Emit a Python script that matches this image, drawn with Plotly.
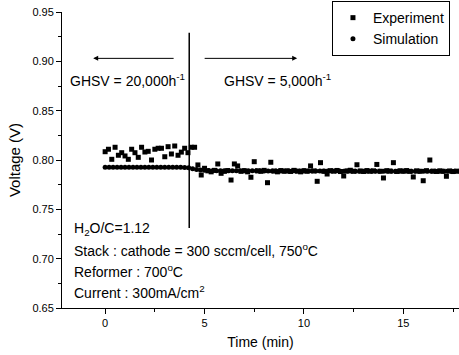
import plotly.graph_objects as go

# ---- data ----
exp_t0 = 0.0
exp_dt = 1.0 / 6.0  # sampling interval (min)
exp_v = [
    0.8084, 0.8109, 0.8007, 0.8129, 0.8048, 0.8074, 0.8041, 0.8007, 0.8109, 0.8074,
    0.8027, 0.8129, 0.8081, 0.8088, 0.8000, 0.8109, 0.8119, 0.8119, 0.8033, 0.8135,
    0.8061, 0.8142, 0.8048, 0.8080, 0.8119, 0.8074, 0.8129, 0.8129, 0.7950, 0.7848,
    0.7916, 0.7890, 0.7880, 0.7895, 0.7960, 0.7865, 0.7885, 0.7893, 0.7797, 0.7960,
    0.7940, 0.7885, 0.7892, 0.7880, 0.7825, 0.7983, 0.7890, 0.7885, 0.7895, 0.7770,
    0.7977, 0.7888, 0.7880, 0.7893, 0.7886, 0.7890, 0.7884, 0.7895, 0.7887, 0.7880,
    0.7892, 0.7886, 0.7940, 0.7889, 0.7784, 0.7973, 0.7885, 0.7858, 0.7892, 0.7887,
    0.7894, 0.7883, 0.7838, 0.7890, 0.7896, 0.7886, 0.7952, 0.7889, 0.7884, 0.7893,
    0.7887, 0.7890, 0.7955, 0.7886, 0.7818, 0.7892, 0.7888, 0.7973, 0.7884, 0.7891,
    0.7887, 0.7893, 0.7885, 0.7828, 0.7890, 0.7886, 0.7790, 0.7892, 0.8000, 0.7887,
    0.7884, 0.7890, 0.7886, 0.7835, 0.7889, 0.7883, 0.7887,
]
exp_t = [exp_t0 + exp_dt * i for i in range(len(exp_v))]

sim_t0 = 0.0
sim_dt = 0.2
sim_v = [
    0.7926, 0.7926, 0.7926, 0.7926, 0.7926, 0.7926, 0.7926, 0.7926, 0.7926, 0.7926,
    0.7926, 0.7926, 0.7926, 0.7926, 0.7926, 0.7926, 0.7926, 0.7926, 0.7926, 0.7926,
    0.7925, 0.7921, 0.7912, 0.7904, 0.7898, 0.7895, 0.7893, 0.7892, 0.7891, 0.7891,
    0.7890, 0.7890, 0.7890, 0.7890, 0.7890, 0.7890, 0.7890, 0.7890, 0.7890, 0.7890,
    0.7889, 0.7889, 0.7889, 0.7889, 0.7889, 0.7889, 0.7889, 0.7889, 0.7889, 0.7889,
    0.7888, 0.7888, 0.7888, 0.7888, 0.7888, 0.7888, 0.7888, 0.7888, 0.7888, 0.7888,
    0.7887, 0.7887, 0.7887, 0.7887, 0.7887, 0.7887, 0.7887, 0.7887, 0.7887, 0.7887,
    0.7886, 0.7886, 0.7886, 0.7886, 0.7886, 0.7886, 0.7886, 0.7886, 0.7886, 0.7886,
    0.7886, 0.7886, 0.7885, 0.7885, 0.7885, 0.7885, 0.7885, 0.7885, 0.7885, 0.7885,
]
sim_t = [sim_t0 + sim_dt * i for i in range(len(sim_v))]

switch_time = 4.23
legend_names = ["Experiment", "Simulation"]
ghsv_left = "GHSV = 20,000h<sup>-1</sup>"
ghsv_right = "GHSV = 5,000h<sup>-1</sup>"
cond_lines = [
    "H<sub>2</sub>O/C=1.12",
    "Stack : cathode = 300 sccm/cell, 750<sup>o</sup>C",
    "Reformer : 700<sup>o</sup>C",
    "Current : 300mA/cm<sup>2</sup>",
]
cond_y = [0.7300, 0.7083, 0.6870, 0.6662]

FONT = "Liberation Sans, Arial, sans-serif"

fig = go.Figure()
fig.add_trace(go.Scatter(
    x=exp_t, y=exp_v, mode="markers", name=legend_names[0],
    marker=dict(symbol="square", size=5, color="black"),
))
fig.add_trace(go.Scatter(
    x=sim_t, y=sim_v, mode="markers", name=legend_names[1],
    marker=dict(symbol="circle", size=5, color="black"),
))

fig.add_shape(type="line", x0=switch_time, x1=switch_time, y0=0.731, y1=0.929,
              xref="x", yref="y", line=dict(color="black", width=1.5))

arrow_y = 0.903
for (x_head, x_tail) in [(-0.6, 3.52), (9.66, 4.93)]:
    fig.add_annotation(x=x_head, y=arrow_y, ax=x_tail, ay=arrow_y,
                       xref="x", yref="y", axref="x", ayref="y",
                       text="", showarrow=True, arrowhead=2, arrowsize=1,
                       arrowwidth=1, arrowcolor="black")

fig.add_annotation(x=-1.86, y=0.881, xref="x", yref="y", text=ghsv_left,
                   showarrow=False, xanchor="left", yanchor="middle",
                   font=dict(family=FONT, size=14, color="black"))
fig.add_annotation(x=5.89, y=0.881, xref="x", yref="y", text=ghsv_right,
                   showarrow=False, xanchor="left", yanchor="middle",
                   font=dict(family=FONT, size=14, color="black"))

for txt, yy in zip(cond_lines, cond_y):
    fig.add_annotation(x=-1.66, y=yy, xref="x", yref="y", text=txt,
                       showarrow=False, xanchor="left", yanchor="middle",
                       font=dict(family=FONT, size=14, color="black"))

fig.update_layout(
    width=459, height=355,
    margin=dict(l=62, r=0, t=12, b=47),
    paper_bgcolor="white", plot_bgcolor="white",
    font=dict(family=FONT, color="black"),
    showlegend=True,
    legend=dict(x=0.68, y=1.037, xanchor="left", yanchor="top",
                bordercolor="black", borderwidth=1, bgcolor="white",
                font=dict(family=FONT, size=14, color="black"),
                tracegroupgap=0, itemwidth=30),
    xaxis=dict(
        range=[-2.17, 17.8], showgrid=False, zeroline=False,
        showline=True, linecolor="black", linewidth=1,
        ticks="outside", ticklen=5, tickcolor="black",
        tick0=0, dtick=5, tickfont=dict(family=FONT, size=11),
        minor=dict(dtick=2.5, tick0=0, ticks="outside", ticklen=3, tickcolor="black"),
        title=dict(text="Time (min)", font=dict(family=FONT, size=14), standoff=8),
    ),
    yaxis=dict(
        range=[0.65, 0.95], showgrid=False, zeroline=False,
        showline=True, linecolor="black", linewidth=1,
        ticks="outside", ticklen=5, tickcolor="black",
        tick0=0.65, dtick=0.05, tickformat=".2f", tickfont=dict(family=FONT, size=11),
        minor=dict(dtick=0.025, ticks="outside", ticklen=3, tickcolor="black"),
        title=dict(text="Voltage (V)", font=dict(family=FONT, size=15), standoff=8),
    ),
)

fig.write_html("out.html")
